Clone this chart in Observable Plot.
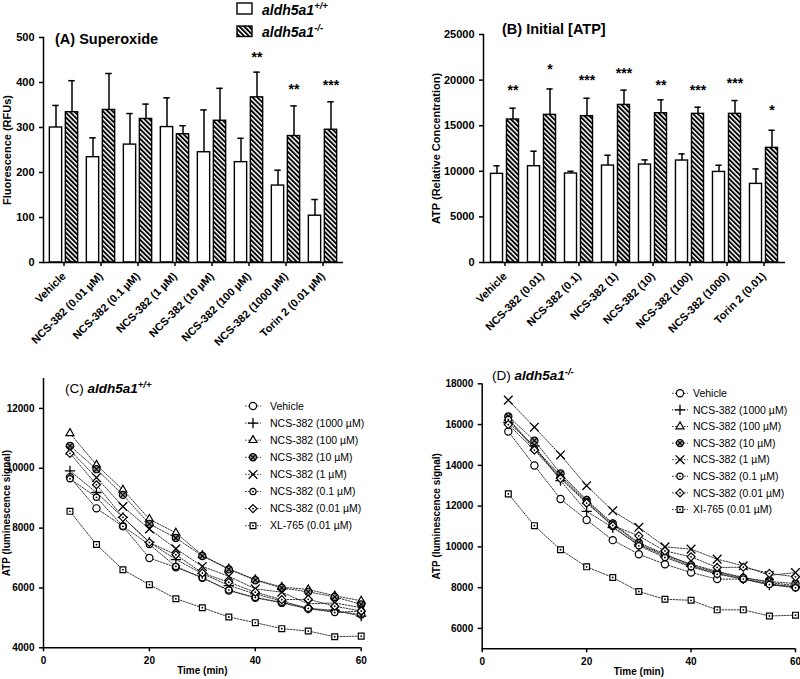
<!DOCTYPE html>
<html><head><meta charset="utf-8">
<script src="https://cdn.jsdelivr.net/npm/d3@7"></script>
<script src="https://cdn.jsdelivr.net/npm/@observablehq/plot@0.6"></script>
<style>
body{margin:0;background:white;}
#wrap{position:relative;width:800px;height:679px;overflow:hidden;font-family:"Liberation Sans",Arial,sans-serif;}
.panel{position:absolute;width:400px;}
svg{overflow:visible}
</style></head><body>
<svg width="0" height="0" style="position:absolute"><defs>
<pattern id="hatch" patternUnits="userSpaceOnUse" width="3.4" height="3.4" patternTransform="rotate(-45)"><rect width="3.4" height="3.4" fill="white"/><rect width="1.9" height="3.4" fill="black"/></pattern>
</defs></svg>
<div id="wrap">
 <div id="pA" class="panel" style="left:0;top:0"></div>
 <div id="pB" class="panel" style="left:400px;top:0"></div>
 <div id="pC" class="panel" style="left:0;top:350px"></div>
 <div id="pD" class="panel" style="left:400px;top:350px"></div>
 <svg id="ov" width="800" height="679" style="position:absolute;left:0;top:0;pointer-events:none" font-family="Liberation Sans, Arial, sans-serif"></svg>
</div>
<script>
// ---------- Panel A data ----------
const categoriesA = ["Vehicle","NCS-382 (0.01 µM)","NCS-382 (0.1 µM)","NCS-382 (1 µM)","NCS-382 (10 µM)","NCS-382 (100 µM)","NCS-382 (1000 µM)","Torin 2 (0.01 µM)"];
const wtA = [300, 234, 262, 301, 245, 223, 171, 104];
const wtAErrTop = [349, 277, 331, 366, 339, 276, 205, 140];
const koA = [334, 339, 319, 285, 315, 367, 281, 295];
const koAErrTop = [404, 420, 352, 304, 387, 423, 348, 357];
const starsA = ["", "", "", "", "", "**", "**", "***"];
const starPosA = [0, 0, 0, 0, 0, 462, 390, 399];
const yTicksA = [0, 100, 200, 300, 400, 500];

// ---------- Panel B data ----------
const categoriesB = ["Vehicle","NCS-382 (0.01)","NCS-382 (0.1)","NCS-382 (1)","NCS-382 (10)","NCS-382 (100)","NCS-382 (1000)","Torin 2 (0.01)"];
const wtB = [9720, 10560, 9760, 10630, 10740, 11180, 9930, 8620];
const wtBErrTop = [10600, 12200, 10000, 11760, 11250, 11910, 10660, 10260];
const koB = [15680, 16190, 16040, 17280, 16370, 16300, 16300, 12570];
const koBErrTop = [16920, 19030, 18010, 18900, 17840, 17030, 17760, 14500];
const starsB = ["**", "*", "***", "***", "**", "***", "***", "*"];
const starPosB = [19150, 21510, 20240, 21040, 19700, 19150, 19950, 17020];
const yTicksB = [0, 5000, 10000, 15000, 20000, 25000];

// ---------- Panel C / D data ----------
const timeMin = [5, 10, 15, 20, 25, 30, 35, 40, 45, 50, 55, 60];
const seriesC = ["Vehicle","NCS-382 (1000 µM)","NCS-382 (100 µM)","NCS-382 (10 µM)","NCS-382 (1 µM)","NCS-382 (0.1 µM)","NCS-382 (0.01 µM)","XL-765 (0.01 µM)"];
const seriesD = ["Vehicle","NCS-382 (1000 µM)","NCS-382 (100 µM)","NCS-382 (10 µM)","NCS-382 (1 µM)","NCS-382 (0.1 µM)","NCS-382 (0.01 µM)","XI-765 (0.01 µM)"];
const symbolKinds = ["circleBig","plus","triangle","otimes","times","circleDot","diamondDot","squareDot"];

const vehicleC = [9700, 8660, 8060, 7000, 6690, 6340, 5910, 5670, 5500, 5300, 5220, 5110];
const ncs1000C = [9910, 9190, 8360, 7530, 6950, 6480, 6080, 5800, 5560, 5320, 5250, 5060];
const ncs100C  = [11170, 10110, 9280, 8300, 7840, 7090, 6640, 6280, 6030, 5950, 5740, 5570];
const ncs10C   = [10750, 9970, 9110, 8140, 7670, 7070, 6620, 6260, 6000, 5870, 5700, 5450];
const ncs1C    = [10600, 9690, 8720, 7970, 7310, 6720, 6390, 5970, 5860, 5470, 5500, 5340];
const ncs01C   = [9650, 9030, 8060, 7450, 6720, 6340, 5930, 5680, 5520, 5320, 5180, 5230];
const ncs001C  = [10500, 9450, 8360, 7520, 7110, 6500, 6190, 5860, 5610, 5620, 5390, 5230];
const xlC      = [8560, 7450, 6610, 6110, 5640, 5340, 5030, 4840, 4640, 4560, 4370, 4390];
const yTicksC = [4000, 6000, 8000, 10000, 12000];

const vehicleD = [15660, 13990, 12350, 11320, 10330, 9640, 9150, 8740, 8420, 8420, 8200, 8020];
const ncs1000D = [16100, 14950, 13250, 11740, 10950, 10100, 9550, 9050, 8700, 8430, 8130, 8050];
const ncs100D  = [16300, 14850, 13500, 12250, 11100, 10150, 9600, 9150, 8800, 8500, 8250, 8100];
const ncs10D   = [16400, 15210, 13600, 12300, 11150, 10200, 9650, 9100, 8750, 8480, 8300, 8200];
const ncs1D    = [17200, 15870, 14510, 13000, 11770, 10960, 10000, 9890, 9400, 9070, 8600, 8740];
const ncs01D   = [16250, 14800, 13400, 12200, 11000, 10050, 9480, 9020, 8660, 8420, 8150, 7990];
const ncs001D  = [16000, 14750, 13350, 12150, 11050, 10540, 9800, 9510, 8990, 9000, 8700, 8530];
const xiD      = [12600, 11040, 9860, 9020, 8500, 7810, 7430, 7380, 6910, 6910, 6610, 6650];
const yTicksD = [6000, 8000, 10000, 12000, 14000, 16000, 18000];
const xTicksCD = [0, 20, 40, 60];

const FONT = "Liberation Sans, Arial, sans-serif";
const baseStyle = {fontFamily: FONT, fontSize: "11px", fontWeight: "bold", background: "transparent", overflow: "visible", color: "black"};

function barPanel(o) {
  const data = o.cats.map((c, i) => ({cat: c, wt: o.wt[i], wtErr: o.wtErr[i], ko: o.ko[i], koErr: o.koErr[i], star: o.stars[i], starY: o.starY[i]}));
  const bw = (400 - o.ml - o.mr) / o.cats.length;
  const half = bw / 2, off = 8, barW = 12.8, cap = 3.5;
  return Plot.plot({
    width: 400, height: 340,
    marginTop: o.mt, marginBottom: 340 - o.bottom, marginLeft: o.ml, marginRight: o.mr,
    style: baseStyle,
    x: {domain: o.cats, padding: 0},
    y: {domain: o.yDomain},
    marks: [
      Plot.barY(data, {x: "cat", y: "wt", fill: "white", stroke: "black", strokeWidth: 1.4, insetLeft: half - off - barW / 2, insetRight: half + off - barW / 2}),
      Plot.barY(data, {x: "cat", y: "ko", fill: "url(#hatch)", stroke: "black", strokeWidth: 1.4, insetLeft: half + off - barW / 2, insetRight: half - off - barW / 2}),
      Plot.ruleX(data, {x: "cat", y1: "wt", y2: "wtErr", dx: -off, strokeWidth: 1.5}),
      Plot.tickY(data, {x: "cat", y: "wtErr", dx: -off, insetLeft: half - cap, insetRight: half - cap, strokeWidth: 1.5}),
      Plot.ruleX(data, {x: "cat", y1: "ko", y2: "koErr", dx: off, strokeWidth: 1.5}),
      Plot.tickY(data, {x: "cat", y: "koErr", dx: off, insetLeft: half - cap, insetRight: half - cap, strokeWidth: 1.5}),
      Plot.text(data.filter(d => d.star), {x: "cat", y: "starY", text: "star", dx: off, dy: 3, fontSize: 14, fontWeight: "bold"}),
      Plot.axisY({ticks: o.yTicks, tickSize: 4, tickFormat: "d", strokeWidth: 1.5, fontSize: 11, label: o.yLabel, labelAnchor: "center", labelOffset: o.labelOffset, labelArrow: "none"}),
      Plot.axisX({tickRotate: -45, tickSize: 4, strokeWidth: 1.5, fontSize: 11, label: null}),
      Plot.frame({anchor: "left", strokeWidth: 1.5}),
      Plot.ruleY([o.yDomain[0]], {strokeWidth: 1.5})
    ]
  });
}

function symbolMarks(d, kind) {
  const common = {x: "t", y: "v", stroke: "black", strokeWidth: 1.2};
  switch (kind) {
    case "circleBig": return [Plot.dot(d, {...common, r: 3.6, fill: "white"})];
    case "plus": return [Plot.dot(d, {...common, symbol: "plus", r: 3.4, strokeWidth: 1.3})];
    case "triangle": return [Plot.dot(d, {...common, symbol: "triangle2", r: 3.8, fill: "white"})];
    case "otimes": return [Plot.dot(d, {...common, r: 3.6, fill: "#999"}), Plot.dot(d, {...common, symbol: "times", r: 2.6})];
    case "times": return [Plot.dot(d, {...common, symbol: "times", r: 4, strokeWidth: 1.3})];
    case "circleDot": return [Plot.dot(d, {...common, r: 3.1, fill: "white"}), Plot.dot(d, {x: "t", y: "v", r: 0.9, fill: "black"})];
    case "diamondDot": return [Plot.dot(d, {...common, symbol: "diamond2", r: 3.6, fill: "white"}), Plot.dot(d, {x: "t", y: "v", r: 0.9, fill: "black"})];
    case "squareDot": return [Plot.dot(d, {...common, symbol: "square2", r: 3.7, fill: "white"}), Plot.dot(d, {x: "t", y: "v", r: 0.9, fill: "black"})];
  }
}

function linePanel(o) {
  const data = [];
  o.series.forEach((s, i) => o.values[i].forEach((v, j) => data.push({s, t: timeMin[j], v})));
  return Plot.plot({
    width: 400, height: 329,
    marginTop: o.mt, marginBottom: o.mb, marginLeft: o.ml, marginRight: o.mr,
    style: {...baseStyle, fontSize: "10px"},
    x: {domain: [0, 60]},
    y: {domain: o.yDomain},
    marks: [
      Plot.line(data, {x: "t", y: "v", z: "s", stroke: "#222", strokeWidth: 0.9, strokeDasharray: "1.6,1.4"}),
      ...o.series.flatMap((s, i) => symbolMarks(data.filter(d => d.s === s), symbolKinds[i])),
      Plot.axisY({ticks: o.yTicks, tickSize: 4, tickFormat: "d", strokeWidth: 1.5, fontSize: 10, label: "ATP (luminescence signal)", labelAnchor: "center", labelOffset: o.labelOffset, labelArrow: "none"}),
      Plot.axisX({ticks: xTicksCD, tickSize: 4, tickFormat: "d", strokeWidth: 1.5, fontSize: 10, label: "Time (min)", labelAnchor: "center", labelOffset: 26, labelArrow: "none"}),
      Plot.ruleX([0], {strokeWidth: 1.5}),
      Plot.ruleY([o.yDomain[0]], {strokeWidth: 1.5})
    ]
  });
}

document.getElementById("pA").append(barPanel({cats: categoriesA, wt: wtA, wtErr: wtAErrTop, ko: koA, koErr: koAErrTop, stars: starsA, starY: starPosA,
  yDomain: [0, 500], yTicks: yTicksA, yLabel: "Fluorescence (RFUs)", labelOffset: 40, mt: 37, bottom: 262, ml: 43, mr: 57}));
document.getElementById("pB").append(barPanel({cats: categoriesB, wt: wtB, wtErr: wtBErrTop, ko: koB, koErr: koBErrTop, stars: starsB, starY: starPosB,
  yDomain: [0, 25000], yTicks: yTicksB, yLabel: "ATP (Relative Concentration)", labelOffset: 51, mt: 34, bottom: 262, ml: 83, mr: 15}));
document.getElementById("pC").append(linePanel({series: seriesC, values: [vehicleC, ncs1000C, ncs100C, ncs10C, ncs1C, ncs01C, ncs001C, xlC],
  yDomain: [4000, 13000], yTicks: yTicksC, mt: 28, mb: 31.7, ml: 43, mr: 39.3, labelOffset: 41}));
document.getElementById("pD").append(linePanel({series: seriesD, values: [vehicleD, ncs1000D, ncs100D, ncs10D, ncs1D, ncs01D, ncs001D, xiD],
  yDomain: [5000, 18000], yTicks: yTicksD, mt: 33.3, mb: 30.7, ml: 81.7, mr: 5, labelOffset: 49}));

// ---------- overlay: titles & legends ----------
const ov = d3.select("#ov");
ov.append("rect").attr("x", 237).attr("y", 3).attr("width", 15).attr("height", 11).attr("fill", "white").attr("stroke", "black").attr("stroke-width", 1.4);
ov.append("rect").attr("x", 237).attr("y", 26).attr("width", 15).attr("height", 10.5).attr("fill", "url(#hatch)").attr("stroke", "black").attr("stroke-width", 1.4);
function genoText(x, y, sup, size) {
  const t = ov.append("text").attr("x", x).attr("y", y).attr("font-size", size).attr("font-weight", "bold").attr("font-style", "italic");
  t.append("tspan").text("aldh5a1");
  t.append("tspan").attr("dy", -size * 0.42).attr("font-size", size * 0.68).text(sup);
}
genoText(262, 14.5, "+/+", 14);
genoText(262, 36.5, "-/-", 14);
ov.append("text").attr("x", 55).attr("y", 43.5).attr("font-size", 14.5).attr("font-weight", "bold").text("(A) Superoxide");
ov.append("text").attr("x", 502).attr("y", 33.5).attr("font-size", 14.5).attr("font-weight", "bold").text("(B) Initial [ATP]");
function panelTitle(x, y, label, sup) {
  const t = ov.append("text").attr("x", x).attr("y", y).attr("font-size", 13.5);
  t.append("tspan").text(label + " ");
  t.append("tspan").attr("font-weight", "bold").attr("font-style", "italic").text("aldh5a1");
  t.append("tspan").attr("dy", -5.5).attr("font-size", 9.5).attr("font-weight", "bold").attr("font-style", "italic").text(sup);
}
panelTitle(65, 393, "(C)", "+/+");
panelTitle(492, 380, "(D)", "-/-");

function legendSymbol(g, kind, x, y) {
  const sym = (type, r) => d3.symbol().type(type).size(Math.PI * r * r)();
  const add = (p) => g.append("path").attr("d", p).attr("transform", `translate(${x},${y})`);
  if (kind === "circleBig") g.append("circle").attr("cx", x).attr("cy", y).attr("r", 3.6).attr("fill", "white").attr("stroke", "black").attr("stroke-width", 1.2);
  if (kind === "plus") add(sym(d3.symbolPlus, 3.4)).attr("fill", "none").attr("stroke", "black").attr("stroke-width", 1.3);
  if (kind === "triangle") add(sym(d3.symbolTriangle2, 3.8)).attr("fill", "white").attr("stroke", "black").attr("stroke-width", 1.2);
  if (kind === "otimes") {
    g.append("circle").attr("cx", x).attr("cy", y).attr("r", 3.6).attr("fill", "#999").attr("stroke", "black").attr("stroke-width", 1.2);
    add(sym(d3.symbolTimes, 2.6)).attr("fill", "none").attr("stroke", "black").attr("stroke-width", 1.2);
  }
  if (kind === "times") add(sym(d3.symbolTimes, 4)).attr("fill", "none").attr("stroke", "black").attr("stroke-width", 1.3);
  if (kind === "circleDot") {
    g.append("circle").attr("cx", x).attr("cy", y).attr("r", 3.1).attr("fill", "white").attr("stroke", "black").attr("stroke-width", 1.2);
    g.append("circle").attr("cx", x).attr("cy", y).attr("r", 0.9).attr("fill", "black");
  }
  if (kind === "diamondDot") {
    add(sym(d3.symbolDiamond2, 3.6)).attr("fill", "white").attr("stroke", "black").attr("stroke-width", 1.2);
    g.append("circle").attr("cx", x).attr("cy", y).attr("r", 0.9).attr("fill", "black");
  }
  if (kind === "squareDot") {
    add(sym(d3.symbolSquare2, 3.7)).attr("fill", "white").attr("stroke", "black").attr("stroke-width", 1.2);
    g.append("circle").attr("cx", x).attr("cy", y).attr("r", 0.9).attr("fill", "black");
  }
}
function legend(series, sx, tx, y0, step) {
  const g = ov.append("g");
  series.forEach((s, i) => {
    const y = y0 + i * step;
    g.append("line").attr("x1", sx - 8).attr("x2", sx + 8).attr("y1", y).attr("y2", y).attr("stroke", "#222").attr("stroke-width", 0.9).attr("stroke-dasharray", "1.6,1.4");
    legendSymbol(g, symbolKinds[i], sx, y);
    g.append("text").attr("x", tx).attr("y", y).attr("dy", "0.35em").attr("font-size", 10.5).text(s);
  });
}
legend(seriesC, 253, 270, 406, 17.1);
legend(seriesD, 680, 693, 393.3, 16.6);
</script>
</body></html>
